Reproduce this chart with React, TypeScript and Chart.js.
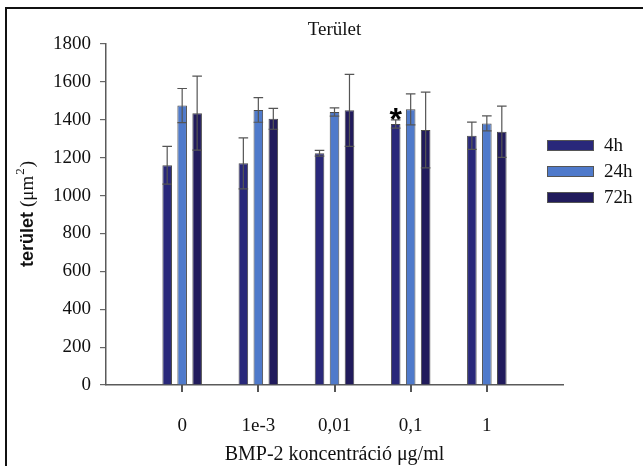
import React, { useEffect, useRef } from "react";
import { Chart, registerables } from "chart.js";

Chart.register(...registerables);

const categories = ["", "0", "1e-3", "0,01", "0,1", "1", ""];
const seriesNames = ["4h", "24h", "72h"];
const values4h = [null, 1160, 1170, 1223, 1378, 1316, null];
const values24h = [null, 1475, 1452, 1441, 1455, 1381, null];
const values72h = [null, 1435, 1405, 1450, 1346, 1337, null];
const err4h = [0, 100, 135, 15, 22, 72, 0];
const err24h = [0, 90, 65, 22, 82, 40, 0];
const err72h = [0, 195, 55, 190, 200, 135, 0];
const yTicks = [0, 200, 400, 600, 800, 1000, 1200, 1400, 1600, 1800];
const starCategory = 4; // "0,1", 4h series

const colors = ["#29287a", "#4f7acb", "#211b5c"];
const errors = [err4h, err24h, err72h];

const SERIF = "'Liberation Serif', 'DejaVu Serif', serif";
const SANS = "'Liberation Sans', Arial, sans-serif";

const decorPlugin = {
  id: "decor",
  afterDatasetsDraw(chart: any) {
    const ctx = chart.ctx;
    const y = chart.scales.y;
    ctx.save();
    ctx.strokeStyle = "#555";
    ctx.lineWidth = 1.2;
    chart.data.datasets.forEach((ds: any, i: number) => {
      const meta = chart.getDatasetMeta(i);
      meta.data.forEach((el: any, j: number) => {
        const v = ds.data[j];
        if (v === null || v === undefined) return;
        const e = errors[i][j];
        const cx = el.x;
        const hw = el.width / 2;
        const yt = y.getPixelForValue(v + e);
        const yb = y.getPixelForValue(v - e);
        ctx.beginPath();
        ctx.moveTo(cx, yt);
        ctx.lineTo(cx, yb);
        ctx.moveTo(cx - hw, yt);
        ctx.lineTo(cx + hw, yt);
        ctx.moveTo(cx - hw, yb);
        ctx.lineTo(cx + hw, yb);
        ctx.stroke();
      });
    });
    // asterisk
    const meta0 = chart.getDatasetMeta(0);
    const el = meta0.data[starCategory];
    const top = y.getPixelForValue(values4h[starCategory]! + err4h[starCategory]);
    ctx.fillStyle = "#000";
    ctx.font = `bold 32px ${SANS}`;
    ctx.textAlign = "center";
    ctx.textBaseline = "alphabetic";
    ctx.fillText("*", el.x, top + 10);
    ctx.restore();
  },
  afterDraw(chart: any) {
    const ctx = chart.ctx;
    const area = chart.chartArea;
    const xs = chart.scales.x;
    const cx = (area.left + area.right) / 2;
    ctx.save();
    // x tick marks at real categories
    const axisY = xs.top;
    ctx.fillStyle = "#555";
    for (let i = 0; i < categories.length; i++) {
      if (categories[i] === "") continue;
      const px = xs.getPixelForValue(i);
      if (!isFinite(px)) continue;
      ctx.fillRect(Math.round(px) - 1, Math.round(axisY), 2, 7);
    }
    // frame
    ctx.fillStyle = "#111";
    ctx.fillRect(5, 7, 2, 466);
    ctx.fillRect(5, 7, 643, 2);
    // title
    ctx.fillStyle = "#111";
    ctx.textAlign = "center";
    ctx.textBaseline = "middle";
    ctx.font = `19px ${SERIF}`;
    ctx.fillText("Terület", cx, 30);
    // x title
    ctx.font = `20px ${SERIF}`;
    ctx.fillText("BMP-2 koncentráció μg/ml", cx, 455);
    // y title
    ctx.save();
    ctx.translate(33, 0);
    ctx.rotate(-Math.PI / 2);
    ctx.textBaseline = "alphabetic";
    ctx.textAlign = "left";
    const boldFont = `bold 18px ${SANS}`;
    const serifFont = `19px ${SERIF}`;
    const supFont = `13px ${SERIF}`;
    ctx.font = boldFont;
    const w1 = ctx.measureText("terület ").width;
    ctx.font = serifFont;
    const w2 = ctx.measureText("(μm").width;
    ctx.font = supFont;
    const w3 = ctx.measureText("2").width + 2;
    ctx.font = serifFont;
    const w4 = ctx.measureText(")").width;
    const total = w1 + w2 + w3 + w4;
    let sx = -214 - total / 2;
    ctx.font = boldFont;
    ctx.fillText("terület", sx, 0);
    sx += w1;
    ctx.font = serifFont;
    ctx.fillText("(μm", sx, 0);
    sx += w2;
    ctx.font = supFont;
    ctx.fillText("2", sx + 1, -9);
    sx += w3;
    ctx.font = serifFont;
    ctx.fillText(")", sx, 0);
    ctx.restore();
    // legend
    ctx.font = `19px ${SERIF}`;
    ctx.textAlign = "left";
    ctx.textBaseline = "middle";
    seriesNames.forEach((name, i) => {
      const by = 140 + i * 26;
      ctx.fillStyle = colors[i];
      ctx.fillRect(547, by, 46, 10);
      ctx.strokeStyle = "#555";
      ctx.lineWidth = 1;
      ctx.strokeRect(547.5, by + 0.5, 46, 10);
      ctx.fillStyle = "#111";
      ctx.fillText(name, 604, by + 6);
    });
    ctx.restore();
  },
};

export default function App() {
  const ref = useRef<HTMLCanvasElement>(null);
  useEffect(() => {
    if (!ref.current) return;
    const datasets = [values4h, values24h, values72h].map((d, i) => ({
      label: seriesNames[i],
      data: d,
      backgroundColor: colors[i],
      borderColor: "#4a4a4a",
      borderWidth: 1,
      categoryPercentage: 0.59,
      barPercentage: 0.64,
    }));
    const chart = new Chart(ref.current, {
      type: "bar",
      data: { labels: categories, datasets: datasets as any },
      options: {
        animation: false,
        responsive: false,
        layout: { padding: { top: 44, right: 80, left: 0, bottom: 0 } },
        plugins: { legend: { display: false }, tooltip: { enabled: false }, title: { display: false } },
        scales: {
          x: {
            type: "category",
            offset: false,
            grid: {
              display: false,
              drawOnChartArea: false,
            },
            border: { display: true, color: "#5a5a5a", width: 1.5 },
            ticks: {
              color: "#111",
              font: { family: SERIF, size: 19 },
              padding: 22,
              maxRotation: 0,
              autoSkip: false,
            },
            afterFit: (s: any) => {
              s.height = 81;
            },
          },
          y: {
            min: 0,
            max: 1800,
            afterBuildTicks: (s: any) => {
              s.ticks = yTicks.map((v) => ({ value: v }));
            },
            grid: {
              display: true,
              drawOnChartArea: false,
              drawTicks: true,
              tickLength: 6,
              color: "#666",
              lineWidth: 1.2,
            },
            border: { display: true, color: "#5a5a5a", width: 1.5 },
            ticks: {
              color: "#111",
              font: { family: SERIF, size: 19 },
              padding: 9,
              callback: (v: any) => String(v),
            },
            afterFit: (s: any) => {
              s.width = 106;
            },
          },
        },
      },
      plugins: [decorPlugin],
    });
    return () => chart.destroy();
  }, []);
  return (
    <div style={{ position: "absolute", left: 0, top: 0, width: 643, height: 466, background: "#fff" }}>
      <canvas ref={ref} width={643} height={466} style={{ display: "block" }} />
    </div>
  );
}
